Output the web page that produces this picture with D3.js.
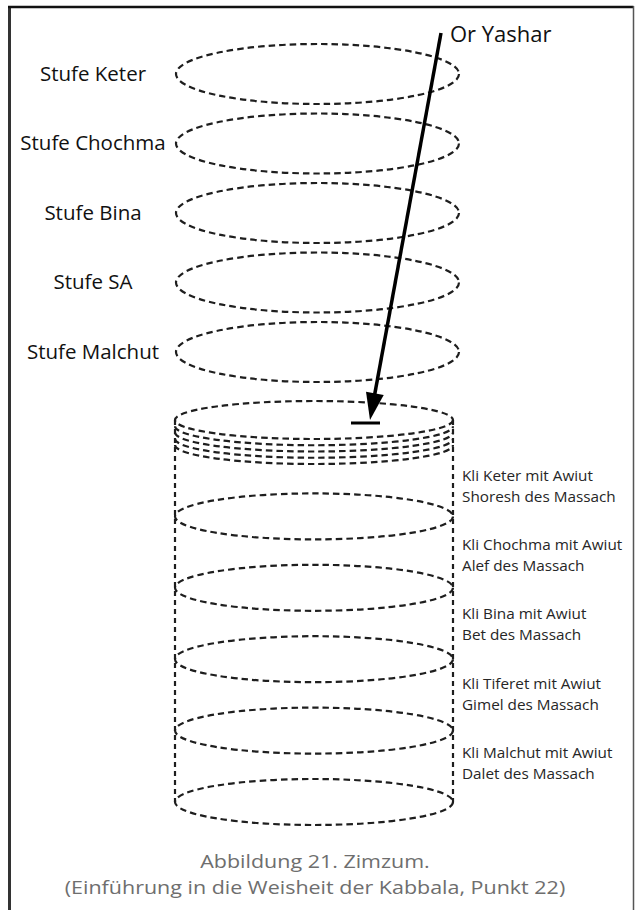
<!DOCTYPE html>
<html>
<head>
<meta charset="utf-8">
<script src="https://cdn.jsdelivr.net/npm/d3@7"></script>
<style>
  body { margin: 0; background: #fff; }
  svg { display: block; }
  text { font-family: "Open Sans", sans-serif; }
</style>
</head>
<body>
<svg id="vis"></svg>
<script>
// levels of light above the vessel
const stufeNames = ["Stufe Keter", "Stufe Chochma", "Stufe Bina", "Stufe SA", "Stufe Malchut"];
// vessel labels, two lines each
const kliLine1 = ["Kli Keter mit Awiut", "Kli Chochma mit Awiut", "Kli Bina mit Awiut", "Kli Tiferet mit Awiut", "Kli Malchut mit Awiut"];
const kliLine2 = ["Shoresh des Massach", "Alef des Massach", "Bet des Massach", "Gimel des Massach", "Dalet des Massach"];
const kliRings = [1, 2, 3, 4, 5];           // rings dividing the vessel
const massachLayers = [0, 1, 2, 3, 4];      // stacked screen at the top
const lightLabel = "Or Yashar";
const captionLines = ["Abbildung 21. Zimzum.", "(Einführung in die Weisheit der Kabbala, Punkt 22)"];

const width = 635, height = 910;
const svg = d3.select("#vis").attr("width", width).attr("height", height);

const dash = "6.5,4";

// scales
const yStufe = d3.scalePoint().domain(stufeNames).range([74, 352]);
const yKli = d3.scaleLinear().domain([0, 5]).range([445, 802]);
const yMassach = d3.scaleLinear().domain([0, 4]).range([420, 445]);
const yKliLabel = d3.scalePoint().domain(kliLine1).range([486, 763]);

const stufe = { cx: 317.5, rx: 141.5, ry: 30 };
const kli = { cx: 314, rx: 139, ry: 23, massachRy: 19 };

// frame
const frame = svg.append("g");
frame.append("line").attr("x1", 9.5).attr("x2", 9.5).attr("y1", 6).attr("y2", height)
  .attr("stroke", "#333").attr("stroke-width", 3);
frame.append("line").attr("x1", 8).attr("x2", 633.5).attr("y1", 7).attr("y2", 7)
  .attr("stroke", "#111").attr("stroke-width", 2.5);
frame.append("line").attr("x1", 633.5).attr("x2", 633.5).attr("y1", 6).attr("y2", height)
  .attr("stroke", "#555").attr("stroke-width", 1.5);

// upper levels
const stufeG = svg.append("g");
stufeG.selectAll("ellipse").data(stufeNames).join("ellipse")
  .attr("cx", stufe.cx).attr("cy", d => yStufe(d))
  .attr("rx", stufe.rx).attr("ry", stufe.ry)
  .attr("fill", "none").attr("stroke", "#1e1e1e").attr("stroke-width", 2.2)
  .attr("stroke-dasharray", dash);
stufeG.selectAll("text").data(stufeNames).join("text")
  .attr("x", 93).attr("y", d => yStufe(d))
  .attr("dy", "0.33em")
  .attr("text-anchor", "middle")
  .attr("font-size", 20.5).attr("fill", "#111")
  .text(d => d);

// vessel
const vessel = svg.append("g")
  .attr("fill", "none").attr("stroke", "#1e1e1e").attr("stroke-width", 2.2)
  .attr("stroke-dasharray", dash);

const lowerArc = cy => `M${kli.cx - kli.rx},${cy} A${kli.rx},${kli.massachRy} 0 0 0 ${kli.cx + kli.rx},${cy}`;

vessel.append("ellipse")
  .attr("cx", kli.cx).attr("cy", yMassach(0))
  .attr("rx", kli.rx).attr("ry", kli.massachRy);
vessel.selectAll("path.massach").data(massachLayers.slice(1)).join("path")
  .attr("class", "massach")
  .attr("d", d => lowerArc(yMassach(d)));

vessel.selectAll("line.side").data([kli.cx - kli.rx, kli.cx + kli.rx]).join("line")
  .attr("class", "side")
  .attr("x1", d => d).attr("x2", d => d)
  .attr("y1", yMassach(0)).attr("y2", yKli(5))
  .attr("stroke-dasharray", "5,4");

vessel.selectAll("ellipse.ring").data(kliRings).join("ellipse")
  .attr("class", "ring")
  .attr("cx", kli.cx).attr("cy", d => yKli(d))
  .attr("rx", kli.rx).attr("ry", kli.ry);

// vessel labels
const kliText = svg.append("g").attr("font-size", 15.3).attr("fill", "#262626");
kliText.selectAll("text.l1").data(kliLine1).join("text")
  .attr("class", "l1")
  .attr("x", 462).attr("y", d => yKliLabel(d) - 10.5)
  .attr("dy", "0.35em")
  .text(d => d);
kliText.selectAll("text.l2").data(kliLine2).join("text")
  .attr("class", "l2")
  .attr("x", 462).attr("y", (d, i) => yKliLabel(kliLine1[i]) + 10.5)
  .attr("dy", "0.35em")
  .text(d => d);

// direct light arrow
const start = [441, 33], tip = [370, 420];
const ang = Math.atan2(tip[1] - start[1], tip[0] - start[0]);
const headLen = 27, headHalf = 9;
const base = [tip[0] - headLen * Math.cos(ang), tip[1] - headLen * Math.sin(ang)];
const nx = -Math.sin(ang), ny = Math.cos(ang);

const arrow = svg.append("g");
arrow.append("line")
  .attr("x1", start[0]).attr("y1", start[1])
  .attr("x2", base[0] + 2 * Math.cos(ang)).attr("y2", base[1] + 2 * Math.sin(ang))
  .attr("stroke", "#000").attr("stroke-width", 3.5);
arrow.append("path")
  .attr("d", d3.line()([
    [base[0] + nx * headHalf, base[1] + ny * headHalf],
    tip,
    [base[0] - nx * headHalf, base[1] - ny * headHalf]
  ]) + "Z")
  .attr("fill", "#000");
arrow.append("line")
  .attr("x1", 351).attr("x2", 380).attr("y1", 423).attr("y2", 423)
  .attr("stroke", "#000").attr("stroke-width", 3);

svg.append("text")
  .attr("x", 450).attr("y", 42)
  .attr("font-size", 22).attr("fill", "#111")
  .text(lightLabel);

// caption: slightly smaller glyph height, stretched to the reference width
const caption = svg.append("g").attr("fill", "#6e6e6e").attr("font-size", 19).attr("text-anchor", "middle")
  .selectAll("text").data(captionLines).join("text")
  .attr("x", 315).attr("y", (d, i) => 868 + i * 26)
  .text(d => d);
caption.each(function () {
  const w = this.getComputedTextLength();
  d3.select(this).attr("textLength", w * 1.13).attr("lengthAdjust", "spacingAndGlyphs");
});
</script>
</body>
</html>
